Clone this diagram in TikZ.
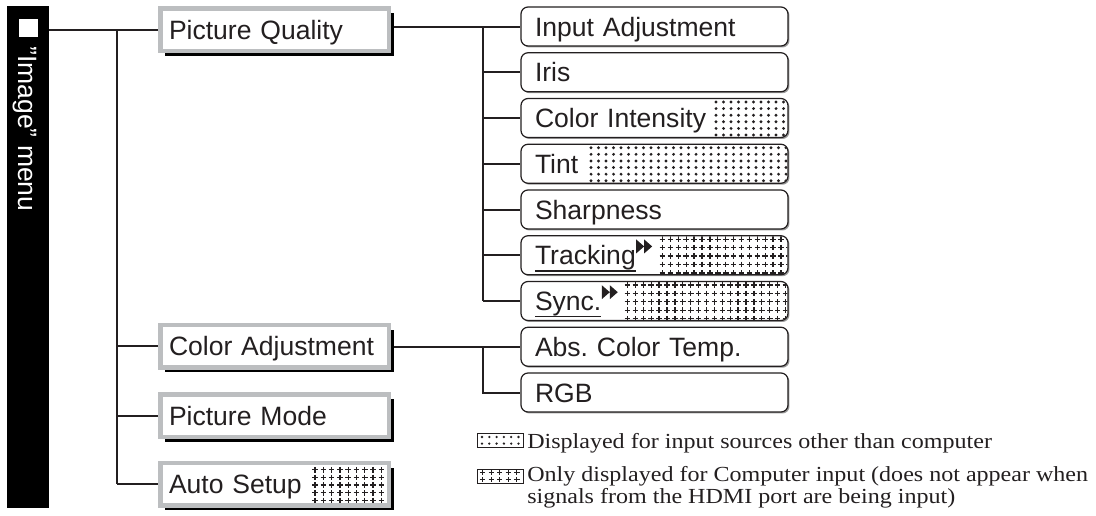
\documentclass[tikz,border=0pt]{standalone}
\usepackage{fontspec}
\setmainfont{Liberation Sans}
\newfontfamily\legendfont[FakeStretch=1.12]{Liberation Serif}
\usetikzlibrary{shadows,backgrounds}
\definecolor{framegray}{HTML}{BCBEC0}
\definecolor{ink}{HTML}{231F20}
\definecolor{shadegray}{HTML}{9A9A9A}
\frenchspacing
\newcommand\myul[1]{\setbox0\hbox{#1}\rlap{\rule[-5.1pt]{\wd0}{0.9pt}}\box0}
\newcommand\ffw{\kern0.3pt\raisebox{8.5pt}{\tikz[x=1pt,y=1pt,sharp corners]{\fill[ink,sharp corners] (0,0)--(6,5.25)--(0,10.5)--cycle (6,0)--(12,5.25)--(6,10.5)--cycle;}}}
% dot pattern in a sub box: xstart, top, bottom
\newcommand\dotpat[3]{%
  \begin{scope}
    \clip[rounded corners=4.6pt] (521.6,#2+0.6) rectangle (787.4,#3-0.6);
    \clip (#1,#2) rectangle (790,#3);
    \foreach \i in {0,...,28}{\foreach \j in {0,...,5}{%
      \fill[ink] ({#1+3+\i*7.5},{#2+3.5+\j*6.6}) circle[radius=1.2pt];}}
  \end{scope}}
% plus pattern in a sub box: xstart, top, bottom
\newcommand\pluspat[3]{%
  \begin{scope}
    \clip[rounded corners=4.6pt] (521.6,#2+0.6) rectangle (787.4,#3-0.6);
    \clip (#1,#2) rectangle (790,#3);
    \foreach \i in {0,...,22}{\foreach \j in {0,...,4}{%
      \draw[ink,line width=1pt] ({#1+3.5+\i*7.9-2.8},{#2+3.5+\j*8.4}) -- ++(5.6,0)
        ({#1+3.5+\i*7.9},{#2+3.5+\j*8.4-2.8}) -- ++(0,5.6);}}
  \end{scope}}
\begin{document}
\begin{tikzpicture}[x=0.75pt,y=-0.75pt,
  mainbox/.style={draw=framegray, line width=3.375pt, fill=white,
    minimum width=171.375pt, minimum height=31.875pt, inner xsep=6.5625pt,
    text width=158.25pt, align=left, text height=15pt, text depth=0.75pt,
    text=ink, font=\fontsize{19.9pt}{24pt}\selectfont,
    general shadow={fill=black, shadow xshift=3.9pt, shadow yshift=-3.9pt}},
  subbox/.style={draw=ink, line width=0.9pt, fill=white, rounded corners=5.25pt,
    minimum width=200.25pt, minimum height=29.25pt, inner xsep=10.5pt,
    text width=179.25pt, align=left, text height=15pt, text depth=0.75pt,
    text=ink, font=\fontsize{19.9pt}{24pt}\selectfont,
    general shadow={fill=shadegray, shadow xshift=1.1pt, shadow yshift=-1.1pt}},
  conn/.style={draw=ink, line width=1.5pt},
  legbox/.style={draw=ink, line width=0.75pt, fill=white, minimum width=34.5pt,
    minimum height=10.5pt, inner sep=0pt},
  legtext/.style={anchor=base west, inner sep=0pt, text=ink, align=left,
    font=\legendfont\fontsize{16.1pt}{16.1pt}\selectfont}
]
\useasboundingbox (0,0) rectangle (1096,515);

% side bar
\node[fill=black, minimum width=31.5pt, minimum height=376.5pt, inner sep=0pt] (bar) at (28,257) {};
\node[fill=white, minimum width=14.25pt, minimum height=13.5pt, inner sep=0pt] (sq) at (28.5,28.25) {};
\node[rotate=-90, anchor=base west, inner sep=0pt, text=white,
  font=\fontsize{19.9pt}{24pt}\selectfont] (lbl) at (18.5,46) {"Image" menu};

% main boxes
\node[mainbox] (pq) at (274.5,29.5) {Picture Quality};
\node[mainbox] (ca) at (274.5,346) {Color Adjustment};
\node[mainbox] (pm) at (274.5,415.5) {Picture Mode};
\node[mainbox] (as) at (274.5,484) {Auto Setup};

% sub boxes
\node[subbox] (ia) at (654.5,26.5) {Input Adjustment};
\node[subbox] (ir) at (654.5,72.25) {Iris};
\node[subbox] (ci) at (654.5,118) {Color Intensity};
\node[subbox] (ti) at (654.5,163.75) {Tint};
\node[subbox] (sh) at (654.5,209.5) {Sharpness};
\node[subbox] (tr) at (654.5,255.25) {\myul{Tracking}\ffw};
\node[subbox] (sy) at (654.5,301) {\myul{Sync.}\ffw};
\node[subbox] (ab) at (654.5,346.75) {Abs. Color Temp.};
\node[subbox] (rgb) at (654.5,392.5) {RGB};

% patterns
\dotpat{713}{98.5}{137.5}
\dotpat{588}{144.25}{183.25}
\pluspat{659}{235.75}{274.75}
\pluspat{624}{281.5}{320.5}
\begin{scope}
  \clip (311,465) rectangle (386.6,503);
  \foreach \i in {0,...,9}{\foreach \j in {0,...,4}{%
    \draw[ink,line width=1pt] ({315+\i*8.3-2.8},{469.7+\j*7.7}) -- ++(5.6,0)
      ({315+\i*8.3},{469.7+\j*7.7-2.8}) -- ++(0,5.6);}}
\end{scope}

% connectors
\coordinate (tx) at (117,0);
\coordinate (sx) at (483,0);
\begin{scope}[on background layer]
\fill[white] (0,0) rectangle (1096,515);
\draw[conn] (bar.east |- pq.west) -- (pq.west);
\draw[conn] (tx |- pq.west) -- (tx |- as.west);
\foreach \n in {ca,pm,as} \draw[conn] (tx |- \n.west) -- (\n.west);
\draw[conn] (pq.east |- ia.west) -- (ia.west);
\draw[conn] (sx |- ia.west) -- (sx |- sy.west);
\foreach \n in {ir,ci,ti,sh,tr,sy} \draw[conn] (sx |- \n.west) -- (\n.west);
\draw[conn] (ca.east |- ab.west) -- (ab.west);
\draw[conn] (sx |- ab.west) -- (sx |- rgb.west) -- (rgb.west);
\end{scope}

% legend
\node[legbox] (lg1) at (500,440.5) {};
\foreach \i in {0,...,5}{\foreach \j in {0,1}{%
  \fill[ink] ({482+\i*7.3},{437+\j*6.6}) circle[radius=0.95pt];}}
\node[legbox] (lg2) at (500,476) {};
\foreach \i in {0,...,4}{\foreach \j in {0,1}{%
  \draw[ink,line width=0.8pt] ({482.5+\i*8.6-2.6},{472.5+\j*7}) -- ++(5.2,0)
    ({482.5+\i*8.6},{472.5+\j*7-2.6}) -- ++(0,5.2);}}
\node[legtext] (lt1) at (527,448) {Displayed for input sources other than computer};
\node[legtext] (lt2) at (527,503) {Only displayed for Computer input (does not appear when\\signals from the HDMI port are being input)};
\end{tikzpicture}
\end{document}
